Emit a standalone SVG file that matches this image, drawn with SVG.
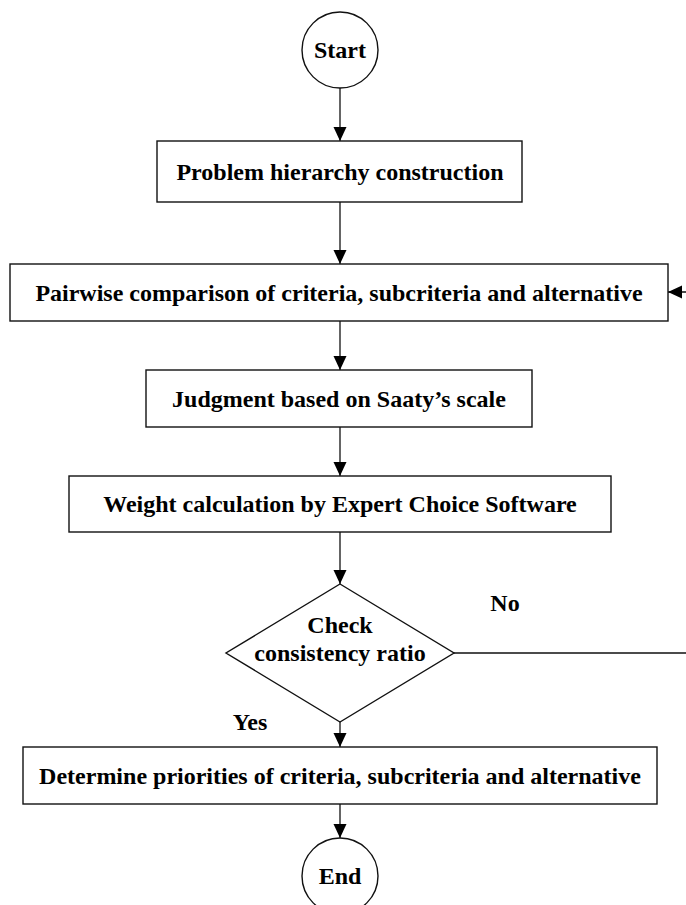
<svg xmlns="http://www.w3.org/2000/svg" width="686" height="905" viewBox="0 0 686 905">
<style>
.n{fill:#fff;stroke:#111;stroke-width:1.4}
.t{font-family:"Liberation Serif","Times New Roman",serif;font-weight:bold;font-size:24px;fill:#000;text-anchor:middle}
.c{fill:none;stroke:#111;stroke-width:1.3}
</style>
<defs>
<marker id="ah" markerUnits="userSpaceOnUse" markerWidth="15" markerHeight="14" refX="14" refY="6.5" orient="auto">
<path d="M0,0 L14,6.5 L0,13 z" fill="#000"/>
</marker>
</defs>
<rect width="686" height="905" fill="#fff"/>
<g id="connectors">
<path class="c" d="M340,88 V141" marker-end="url(#ah)"/>
<path class="c" d="M340,202 V264" marker-end="url(#ah)"/>
<path class="c" d="M340,321 V370" marker-end="url(#ah)"/>
<path class="c" d="M340,427 V476" marker-end="url(#ah)"/>
<path class="c" d="M340,532 V584" marker-end="url(#ah)"/>
<path class="c" d="M340,722 V747" marker-end="url(#ah)"/>
<path class="c" d="M340,804 V838" marker-end="url(#ah)"/>
<path class="c" d="M454,653 H692 V292 H668" marker-end="url(#ah)" stroke="#555"/>
</g>
<g id="start">
<circle class="n" cx="340" cy="50" r="38"/>
<text class="t" x="340" y="58">Start</text>
</g>
<g id="problem-hierarchy">
<rect class="n" x="157" y="141" width="365" height="61"/>
<text class="t" x="340" y="180">Problem hierarchy construction</text>
</g>
<g id="pairwise">
<rect class="n" x="10" y="264" width="658" height="57"/>
<text class="t" x="339" y="301">Pairwise comparison of criteria, subcriteria and alternative</text>
</g>
<g id="judgment">
<rect class="n" x="146" y="370" width="386" height="57"/>
<text class="t" x="339" y="407">Judgment based on Saaty’s scale</text>
</g>
<g id="weight">
<rect class="n" x="69" y="476" width="542" height="56"/>
<text class="t" x="340" y="512">Weight calculation by Expert Choice Software</text>
</g>
<g id="check">
<polygon class="n" points="340,584 454,653 340,722 226,653"/>
<text class="t" x="340" y="633">Check</text>
<text class="t" x="340" y="661">consistency ratio</text>
</g>
<g id="labels">
<text class="t" x="505" y="611">No</text>
<text class="t" x="250" y="730">Yes</text>
</g>
<g id="determine">
<rect class="n" x="23" y="747" width="634" height="57"/>
<text class="t" x="340" y="784">Determine priorities of criteria, subcriteria and alternative</text>
</g>
<g id="end">
<circle class="n" cx="340" cy="876" r="38"/>
<text class="t" x="340" y="884">End</text>
</g>
</svg>
